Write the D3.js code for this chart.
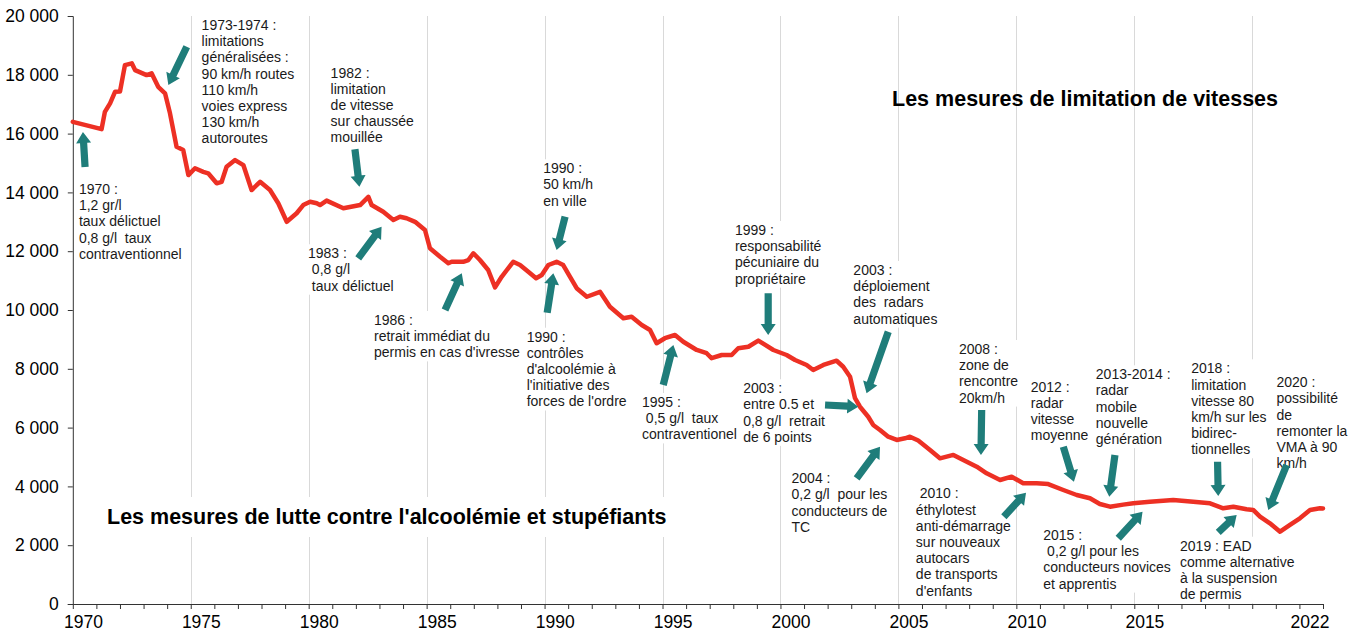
<!DOCTYPE html>
<html><head><meta charset="utf-8">
<script src="https://cdn.jsdelivr.net/npm/d3@7"></script>
<style>
body{margin:0;background:#fff}
text{font-family:"Liberation Sans",Arial,Helvetica,sans-serif}
</style>
</head><body>
<svg id="chart" width="1361" height="632"></svg>
<script>
// ---- data: rolling 12-month road deaths, France ----
const years = [1970.00,1971.22,1971.36,1971.58,1971.79,1972.00,1972.21,1972.50,1972.64,1973.13,1973.34,1973.48,1973.62,1973.91,
1974.12,1974.40,1974.68,1974.90,1975.18,1975.53,1975.74,1976.10,1976.31,1976.52,1976.88,1977.23,1977.58,1977.94,1978.36,1978.71,
1979.07,1979.49,1979.77,1980.06,1980.34,1980.48,1980.76,1981.47,1982.18,1982.53,1982.67,1983.16,1983.59,1983.87,1984.15,1984.51,
1984.93,1985.14,1985.57,1985.92,1986.06,1986.55,1986.77,1986.98,1987.26,1987.61,1987.90,1988.18,1988.67,1988.96,1989.31,1989.64,
1989.88,1990.16,1990.51,1990.79,1991.08,1991.36,1991.79,1992.35,1992.77,1993.34,1993.69,1994.12,1994.47,1994.75,1995.10,1995.53,
1995.88,1996.45,1996.87,1997.08,1997.51,1997.93,1998.21,1998.64,1999.06,1999.70,2000.26,2000.62,2001.11,2001.39,2001.82,2002.38,
2002.66,2002.95,2003.16,2003.37,2003.72,2003.93,2004.22,2004.57,2004.93,2005.28,2005.49,2005.84,2006.34,2006.76,2007.33,2007.75,
2008.32,2008.74,2009.31,2009.80,2010.29,2010.86,2011.35,2011.99,2012.56,2013.12,2013.54,2013.97,2014.53,2014.96,2015.66,2016.65,
2017.50,2018.21,2018.77,2019.20,2019.76,2020.04,2020.33,2020.75,2021.18,2021.60,2022.02,2022.45,2022.87,2023.00];
const deaths = [16400,16150,16740,17030,17420,17430,18330,18390,18160,17990,18050,17820,17590,17370,
16690,15550,15440,14590,14820,14700,14650,14310,14360,14870,15100,14930,14080,14360,14080,13630,
13000,13290,13570,13680,13630,13570,13720,13460,13570,13850,13570,13340,13060,13170,13120,13000,
12720,12100,11810,11590,11640,11640,11700,11930,11700,11360,10770,11130,11640,11530,11300,11080,
11190,11530,11640,11530,11130,10740,10450,10620,10110,9720,9770,9490,9320,8870,9040,9150,
8920,8640,8530,8360,8470,8470,8700,8750,8960,8640,8470,8300,8130,7960,8130,8275,
8070,7730,7000,6710,6370,6090,5920,5690,5580,5635,5690,5560,5240,4955,5070,4900,
4670,4445,4217,4330,4105,4105,4080,3877,3707,3595,3400,3310,3380,3425,3480,3537,
3480,3425,3255,3309,3220,3200,2970,2745,2460,2690,2915,3197,3255,3250];

const yTicks = [0,2000,4000,6000,8000,10000,12000,14000,16000,18000,20000];
const tickYears = d3.range(1970, 2024);
const gridYears = [1975,1980,1985,1990,1995,2000,2005,2010,2015,2020];
const labelYears = [1970,1975,1980,1985,1990,1995,2000,2005,2010,2015,2022];

// annotation text anchors (year, value of first line) and lines
const noteYears  = [1970.26,1975.46,1980.93,1979.97,1982.77,1989.94,1989.24,1994.13,1998.07,2003.09,1998.42,2000.47,2007.57,2005.74,2010.61,2013.37,2011.14,2017.41,2016.94,2021.03];
const noteValues = [14116,19694,18072,11929,9660,14820,9092,6871,12721,11361,7337,4276,8674,3765,7391,7813,2347,8017,1983,7541];
const noteLines = [
 ["1970 :","1,2 gr/l","taux délictuel","0,8 g/l  taux","contraventionnel"],
 ["1973-1974 :","limitations","généralisées :","90 km/h routes","110 km/h","voies express","130 km/h","autoroutes"],
 ["1982 :","limitation","de vitesse","sur chaussée","mouillée"],
 ["1983 :"," 0,8 g/l"," taux délictuel"],
 ["1986 :","retrait immédiat du","permis en cas d'ivresse"],
 ["1990 :","50 km/h","en ville"],
 ["1990 :","contrôles","d'alcoolémie à","l'initiative des","forces de l'ordre"],
 ["1995 :"," 0,5 g/l  taux","contraventionel"],
 ["1999 :","responsabilité","pécuniaire du","propriétaire"],
 ["2003 :","déploiement","des  radars","automatiques"],
 ["2003 :","entre 0.5 et","0,8 g/l  retrait","de 6 points"],
 ["2004 :","0,2 g/l  pour les","conducteurs de","TC"],
 ["2008 :","zone de","rencontre","20km/h"],
 [" 2010 :","éthylotest","anti-démarrage","sur nouveaux","autocars","de transports","d'enfants"],
 ["2012 :","radar","vitesse","moyenne"],
 ["2013-2014 :","radar","mobile","nouvelle","génération"],
 ["2015 :"," 0,2 g/l pour les","conducteurs novices","et apprentis"],
 ["2018 :","limitation","vitesse 80","km/h sur les","bidirec-","tionnelles"],
 ["2019 : EAD","comme alternative","à la suspension","de permis"],
 ["2020 :","possibilité","de","remonter la","VMA à 90","km/h"]
];
// arrows: tail and tip as [year, value]
const arrowTails = [[1970.52,14864],[1974.83,18956],[1981.96,15466],[1982.10,11759],[1985.78,10000],[1990.87,13174],[1990.11,9908],[1995.03,7449],[1999.48,10568],[2004.57,9262],[2001.89,6769],[2003.23,4276],[2008.53,6599],[2009.47,2969],[2011.99,5350],[2014.18,5068],[2014.32,2235],[2018.53,4840],[2018.56,2439],[2021.46,4728]];
const arrowTips  = [[1970.43,16055],[1974.05,17653],[1982.15,14194],[1983.09,12834],[1986.49,11248],[1990.51,12041],[1990.37,11248],[1995.46,8810],[1999.48,9150],[2003.65,7167],[2003.30,6711],[2004.22,5350],[2008.50,5068],[2010.41,3786],[2012.44,4160],[2013.94,3650],[2015.35,3139],[2018.56,3674],[2019.34,3027],[2020.68,3197]];

const titleTexts = ["Les mesures de limitation de vitesses","Les mesures de lutte contre l'alcoolémie et stupéfiants"];
const titleYears = [2004.73,1971.45];
const titleValues = [17177,2993];

// ---- drawing ----
const svg = d3.select("#chart");
const x = d3.scaleLinear().domain([1970,2023]).range([72.8,1323]);
const y = d3.scaleLinear().domain([0,20000]).range([604,16]);

// gridlines
svg.append("g").selectAll("line").data(gridYears).join("line")
  .attr("x1",d=>Math.round(x(d))+0.5).attr("x2",d=>Math.round(x(d))+0.5)
  .attr("y1",y(20000)).attr("y2",y(0))
  .attr("stroke","#d9d9d9").attr("stroke-width",1);

// titles
const tg = svg.append("g");
titleTexts.forEach((t,i)=>{
  const g = tg.append("g");
  const txt = g.append("text").attr("x",x(titleYears[i])).attr("y",y(titleValues[i])+7.5)
    .attr("font-size",21.5).attr("font-weight","bold").attr("fill","#000").text(t);
  if(i===1){
    const b = txt.node().getBBox();
    g.insert("rect","text").attr("x",b.x-5).attr("y",y(titleValues[i])-19).attr("width",b.width+10).attr("height",40).attr("fill","#fff");
  }
});

// annotations text
const ng = svg.append("g");
noteLines.forEach((lines,i)=>{
  const g = ng.append("g");
  const x0 = x(noteYears[i]), y0 = y(noteValues[i]);
  const t = g.append("text").attr("font-size",14).attr("fill","#1a1a1a").style("white-space","pre");
  lines.forEach((l,j)=>{
    t.append("tspan").attr("x",x0).attr("y",y0+5+j*16.2).text(l);
  });
  const b = t.node().getBBox();
  g.insert("rect","text").attr("x",b.x-2).attr("y",b.y-1).attr("width",b.width+4).attr("height",b.height+2).attr("fill","#fff");
});

// axes
const fmt = v => d3.format(",")(v).replace(/,/g," ");
const ya = svg.append("g").attr("transform",`translate(${x(1970)},0)`)
  .call(d3.axisLeft(y).tickValues(yTicks).tickSize(5).tickPadding(9).tickFormat(fmt));
ya.selectAll("text").attr("font-size",17.5).attr("fill","#000").style("font-family",'"Liberation Sans",Arial,sans-serif');
ya.selectAll("line,path").attr("stroke","#333");

const xa = svg.append("g").attr("transform",`translate(0,${y(0)})`)
  .call(d3.axisBottom(x).tickValues(tickYears).tickSize(5).tickSizeOuter(0).tickFormat(""));
xa.selectAll("line,path").attr("stroke","#333");

svg.append("g").selectAll("text").data(labelYears).join("text")
  .attr("x",d=>x(d+0.45)).attr("y",y(0)+23.5).attr("text-anchor","middle")
  .attr("font-size",17.5).attr("fill","#000").text(d=>d);

// line
svg.append("path").datum(years.map((d,i)=>[d,deaths[i]]))
  .attr("fill","none").attr("stroke","#ed3024").attr("stroke-width",4.5)
  .attr("stroke-linejoin","round").attr("stroke-linecap","round")
  .attr("d",d3.line().x(d=>x(d[0])).y(d=>y(d[1])));

// arrows
function arrowPath(a,b){
  const x1=x(a[0]),y1=y(a[1]),x2=x(b[0]),y2=y(b[1]);
  const dx=x2-x1,dy=y2-y1,L=Math.hypot(dx,dy),ux=dx/L,uy=dy/L,nx=-uy,ny=ux;
  const sw=3.6,hw=7.5,hl=11;
  const bx=x2-ux*hl,by=y2-uy*hl;
  const p=[[x1+nx*sw,y1+ny*sw],[bx+nx*sw,by+ny*sw],[bx+nx*hw,by+ny*hw],[x2,y2],[bx-nx*hw,by-ny*hw],[bx-nx*sw,by-ny*sw],[x1-nx*sw,y1-ny*sw]];
  return "M"+p.map(q=>q.join(",")).join("L")+"Z";
}
svg.append("g").selectAll("path").data(arrowTails).join("path")
  .attr("d",(d,i)=>arrowPath(d,arrowTips[i])).attr("fill","#1f7d7a");
</script>
</body></html>
